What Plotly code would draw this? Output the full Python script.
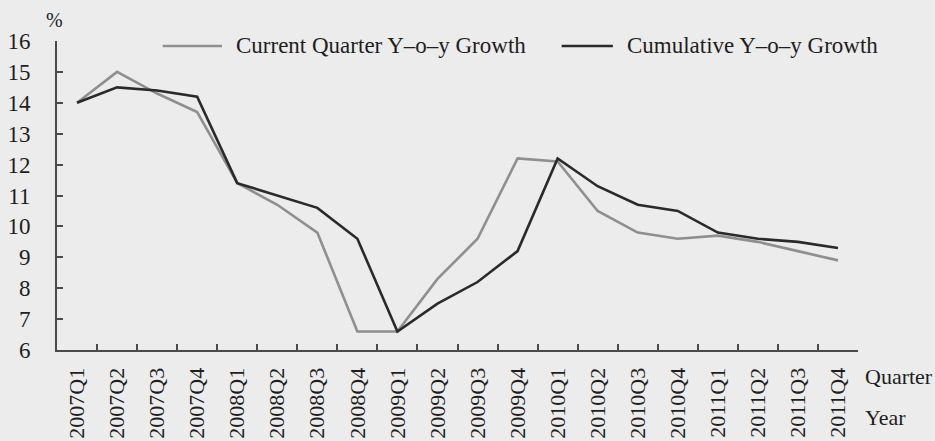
import plotly.graph_objects as go

quarters = ["2007Q1", "2007Q2", "2007Q3", "2007Q4",
            "2008Q1", "2008Q2", "2008Q3", "2008Q4",
            "2009Q1", "2009Q2", "2009Q3", "2009Q4",
            "2010Q1", "2010Q2", "2010Q3", "2010Q4",
            "2011Q1", "2011Q2", "2011Q3", "2011Q4"]
current_quarter = [14.0, 15.0, 14.3, 13.7,
                   11.4, 10.7, 9.8, 6.6,
                   6.6, 8.3, 9.6, 12.2,
                   12.1, 10.5, 9.8, 9.6,
                   9.7, 9.5, 9.2, 8.9]
cumulative = [14.0, 14.5, 14.4, 14.2,
              11.4, 11.0, 10.6, 9.6,
              6.6, 7.5, 8.2, 9.2,
              12.2, 11.3, 10.7, 10.5,
              9.8, 9.6, 9.5, 9.3]
y_ticks = list(range(6, 17))
series_names = ["Current Quarter Y\u2013o\u2013y Growth", "Cumulative Y\u2013o\u2013y Growth"]

GRAY = "#8f8f8f"
BLACK = "#2a2a2a"
AXIS = "#4a4a4a"
FONT = "Liberation Serif"
BG = "#ececec"
TXT = "#1e1e1e"

idx = list(range(len(quarters)))

fig = go.Figure()
fig.add_trace(go.Scatter(x=idx, y=current_quarter, mode="lines", name=series_names[0],
                         line=dict(color=GRAY, width=2.6), showlegend=False))
fig.add_trace(go.Scatter(x=idx, y=cumulative, mode="lines", name=series_names[1],
                         line=dict(color=BLACK, width=2.6), showlegend=False))
# invisible trace to activate the tick-mark axis
fig.add_trace(go.Scatter(x=[idx[0]], y=[cumulative[0]], xaxis="x2", mode="markers",
                         marker=dict(opacity=0), showlegend=False, hoverinfo="skip"))

n = len(quarters)
fig.update_layout(
    width=935, height=441,
    margin=dict(l=57, r=77, t=41, b=91),
    paper_bgcolor=BG, plot_bgcolor=BG,
    font=dict(family=FONT, color=TXT, size=21),
    xaxis=dict(range=[-0.5, n - 0.5], tickmode="array", tickvals=idx, ticktext=quarters,
               tickangle=-90, ticks="", showgrid=False, zeroline=False, automargin=False,
               showline=True, linecolor=AXIS, linewidth=2,
               tickfont=dict(family=FONT, size=22, color=TXT),
               ticklabelstandoff=7),
    xaxis2=dict(range=[-0.5, n - 0.5], overlaying="x", matches="x", side="bottom",
                tickmode="array", tickvals=[i + 0.5 for i in idx], automargin=False,
                ticks="inside", ticklen=6, tickwidth=1.5, tickcolor=AXIS,
                showticklabels=False, showgrid=False, zeroline=False, showline=False),
    yaxis=dict(range=[6, 16], tickmode="array", tickvals=y_ticks, automargin=False,
               ticks="inside", ticklen=6, tickwidth=1.5, tickcolor=AXIS,
               showgrid=False, zeroline=False, showline=True, linecolor=AXIS, linewidth=2,
               tickfont=dict(family=FONT, size=23, color=TXT),
               ticklabelstandoff=20),
)

# legend drawn as line samples + text
legend_items = [
    (GRAY, 0.132, 0.206, 0.221, series_names[0]),
    (BLACK, 0.630, 0.694, 0.709, series_names[1]),
]
for color, x0, x1, xt, label in legend_items:
    fig.add_shape(type="line", xref="paper", yref="paper", x0=x0, x1=x1, y0=0.984, y1=0.984,
                  line=dict(color=color, width=2.6))
    fig.add_annotation(xref="paper", yref="paper", x=xt, y=0.987, text=label, showarrow=False,
                       xanchor="left", yanchor="middle",
                       font=dict(family=FONT, size=23, color=TXT))

fig.add_annotation(xref="paper", yref="paper", x=-0.003, y=1.068, text="%", showarrow=False,
                   xanchor="center", yanchor="middle",
                   font=dict(family=FONT, size=20, color=TXT))
fig.add_annotation(xref="paper", yref="paper", x=1.006, y=-0.087, text="Quarter", showarrow=False,
                   xanchor="left", yanchor="middle",
                   font=dict(family=FONT, size=22, color=TXT))
fig.add_annotation(xref="paper", yref="paper", x=1.006, y=-0.220, text="Year", showarrow=False,
                   xanchor="left", yanchor="middle",
                   font=dict(family=FONT, size=22, color=TXT))

fig.write_html("out.html", config={"displayModeBar": False},
               post_script="document.body.style.margin='0';document.body.style.overflow='hidden';")
